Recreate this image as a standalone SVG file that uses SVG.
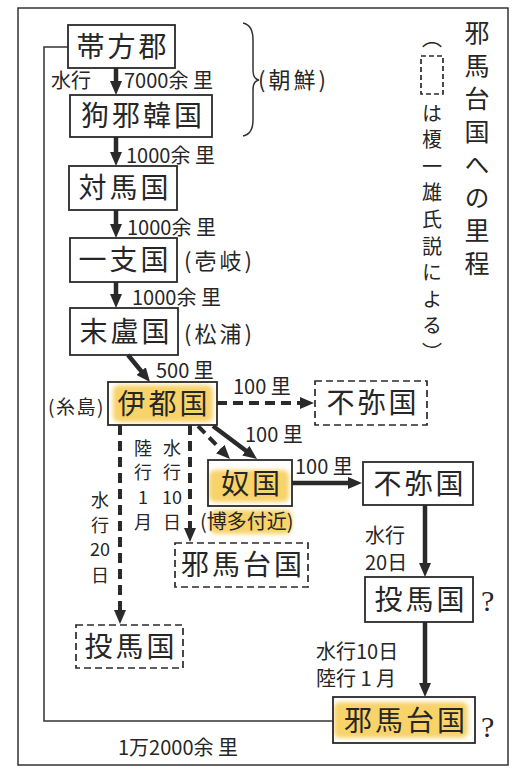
<svg xmlns="http://www.w3.org/2000/svg" width="522" height="770" viewBox="0 0 522 770">
<defs>
<style>
text{font-family:"Noto Sans CJK JP","Noto Sans CJK SC",sans-serif;fill:#262626}
.node{font-size:28px;letter-spacing:3px;text-anchor:middle}
.lbl{font-size:20px}
.par{font-size:22px;letter-spacing:3px}
.vt{font-size:18px;text-anchor:middle}
.q{font-size:30px;font-family:"Liberation Serif",serif}
.title{font-size:25px;letter-spacing:8px;writing-mode:vertical-rl}
.sub{font-size:20px;letter-spacing:6.6px;writing-mode:vertical-rl}
.box{fill:none;stroke:#2a2a2a;stroke-width:1.8}
.dbox{fill:none;stroke:#2a2a2a;stroke-width:1.7;stroke-dasharray:7 4}
.frame{fill:none;stroke:#333;stroke-width:1.5}
.ed{fill:none;stroke:#2a2a2a;stroke-width:4.5;marker-end:url(#ah)}
.edd{fill:none;stroke:#2a2a2a;stroke-width:4;stroke-dasharray:10 6;marker-end:url(#ah)}
.hl{fill:#f8d36a;filter:url(#soft)}
</style>
<marker id="ah" viewBox="0 0 14 12" refX="4" refY="6" markerWidth="14" markerHeight="12" markerUnits="userSpaceOnUse" orient="auto">
<path d="M0,0 L14,6 L0,12 z" fill="#2a2a2a"/>
</marker>
<filter id="soft" x="-20%" y="-30%" width="140%" height="160%"><feGaussianBlur stdDeviation="2"/></filter>
</defs>
<rect width="522" height="770" fill="#fff"/>
<rect class="frame" x="18" y="8" width="490" height="757"/>

<g id="title">
<text class="title" x="477" y="20">邪馬台国への里程</text>
</g>
<g id="subtitle">
<text class="sub" x="432" y="28">（</text>
<rect class="dbox" x="421" y="56" width="22" height="38" stroke-width="1.4" style="stroke-dasharray:5 3"/>
<text class="sub" x="432" y="103">は榎一雄氏説による）</text>
</g>

<g id="connectors">
<polyline class="frame" points="68,47 44,47 44,721 333,721"/>
<line class="ed" x1="116" y1="68" x2="116" y2="85"/>
<line class="ed" x1="116" y1="137" x2="116" y2="156"/>
<line class="ed" x1="116" y1="210" x2="116" y2="228"/>
<line class="ed" x1="116" y1="282" x2="116" y2="298"/>
<line class="ed" x1="128" y1="355" x2="143.7" y2="374.2"/>
<line class="edd" x1="217" y1="403" x2="304" y2="403"/>
<line class="edd" x1="198" y1="426" x2="223" y2="451.8"/>
<line class="ed" x1="213" y1="426" x2="249" y2="453"/>
<line class="ed" x1="292" y1="483" x2="352" y2="483"/>
<line class="ed" x1="425" y1="505" x2="425" y2="567"/>
<line class="ed" x1="425" y1="622" x2="425" y2="687"/>
<line class="edd" x1="120" y1="425" x2="120" y2="614"/>
<line class="edd" x1="190" y1="425" x2="190" y2="532"/>
<path d="M243,23 Q253,25 253,40 L253,70 Q253,79 259,80 Q253,81 253,90 L253,120 Q253,134 243,136" fill="none" stroke="#333" stroke-width="1.5"/>
</g>

<g id="edge-labels">
<text class="lbl" x="51" y="88">水行</text>
<text class="lbl" x="124" y="88">7000余 里</text>
<text class="lbl" x="126" y="163">1000余 里</text>
<text class="lbl" x="127" y="235">1000余 里</text>
<text class="lbl" x="132" y="305">1000余 里</text>
<text class="lbl" x="156" y="378">500 里</text>
<text class="lbl" x="233" y="394">100 里</text>
<text class="lbl" x="245" y="442">100 里</text>
<text class="lbl" x="295" y="474">100 里</text>
<text class="lbl" x="365" y="543">水行</text>
<text class="lbl" x="365" y="570">20日</text>
<text class="lbl" x="316" y="659">水行10日</text>
<text class="lbl" x="316" y="686">陸行 1 月</text>
<text class="lbl" x="118" y="755">1万2000余 里</text>
<text class="vt" x="100" y="507">水</text>
<text class="vt" x="100" y="532">行</text>
<text class="vt" x="100" y="556">20</text>
<text class="vt" x="100" y="582">日</text>
<text class="vt" x="143" y="455">陸</text>
<text class="vt" x="143" y="479">行</text>
<text class="vt" x="143" y="504">1</text>
<text class="vt" x="143" y="529">月</text>
<text class="vt" x="172" y="455">水</text>
<text class="vt" x="172" y="479">行</text>
<text class="vt" x="172" y="504">10</text>
<text class="vt" x="172" y="529">日</text>
</g>

<g id="n-taihou"><rect class="box" x="68" y="25" width="107" height="43"/><text class="node" x="123" y="57">帯方郡</text></g>
<g id="n-kuyakan"><rect class="box" x="70" y="95" width="142" height="42"/><text class="node" x="143" y="126">狗邪韓国</text></g>
<text class="par" x="258" y="88">(朝鮮)</text>
<g id="n-tsushima"><rect class="box" x="69" y="166" width="108" height="44"/><text class="node" x="125" y="198">対馬国</text></g>
<g id="n-ikikoku"><rect class="box" x="70" y="238" width="107" height="44"/><text class="node" x="125" y="270">一支国</text><text class="par" x="184" y="269">(壱岐)</text></g>
<g id="n-matsuro"><rect class="box" x="70" y="308" width="108" height="47"/><text class="node" x="126" y="342">末盧国</text><text class="par" x="184" y="342">(松浦)</text></g>
<g id="n-ito"><rect class="hl" x="113" y="385" width="100" height="37" rx="6"/><rect class="box" x="108" y="382" width="109" height="43"/><text class="node" x="164" y="414">伊都国</text><text class="lbl" x="48" y="414" style="font-size:19px;letter-spacing:1.5px">(糸島)</text></g>
<g id="n-fumi-d"><rect class="dbox" x="315" y="381" width="112" height="44"/><text class="node" x="373" y="413">不弥国</text></g>
<g id="n-na"><rect class="hl" x="209" y="470" width="80" height="32" rx="6"/><rect class="hl" x="210" y="510" width="82" height="24" rx="6"/><rect class="box" x="208" y="460" width="84" height="46"/><text class="node" x="252" y="494">奴国</text><text class="lbl" x="200" y="529">(博多付近)</text></g>
<g id="n-fumi"><rect class="box" x="363" y="462" width="110" height="43"/><text class="node" x="420" y="494">不弥国</text></g>
<g id="n-yamatai-d"><rect class="dbox" x="175" y="543" width="133" height="44"/><text class="node" x="243" y="575">邪馬台国</text></g>
<g id="n-tsuma-d"><rect class="dbox" x="76" y="625" width="107" height="43"/><text class="node" x="131" y="657">投馬国</text></g>
<g id="n-tsuma"><rect class="box" x="365" y="577" width="108" height="45"/><text class="node" x="421" y="610">投馬国</text><text class="q" x="481" y="611">?</text></g>
<g id="n-yamatai"><rect class="hl" x="334" y="702" width="134" height="36" rx="6"/><rect class="box" x="333" y="697" width="142" height="46"/><text class="node" x="406" y="731">邪馬台国</text><text class="q" x="481" y="737">?</text></g>
</svg>
